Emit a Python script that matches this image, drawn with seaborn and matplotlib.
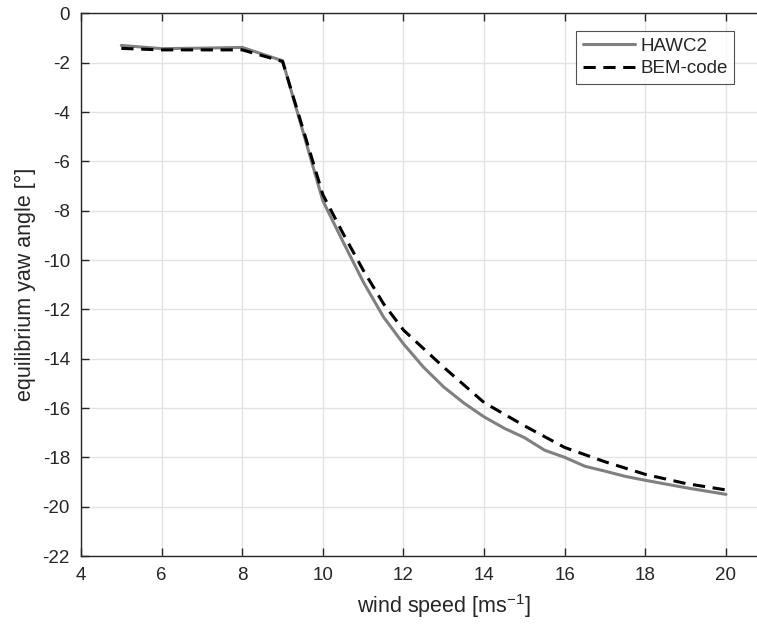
import matplotlib
matplotlib.use("Agg")
import matplotlib.pyplot as plt
import numpy as np
import pandas as pd
import seaborn as sns

# values
hawc2_ws = [5, 6, 7, 8, 9, 10, 10.5, 11, 11.5, 12, 12.5, 13, 13.5, 14, 14.5,
            15, 15.5, 16, 16.5, 17, 17.5, 18, 19, 20]
hawc2_yaw = [-1.30, -1.43, -1.41, -1.38, -1.92, -7.60, -9.26, -10.88, -12.30,
             -13.40, -14.35, -15.15, -15.80, -16.36, -16.82, -17.20, -17.71,
             -18.00, -18.36, -18.56, -18.77, -18.93, -19.23, -19.50]

bem_ws = [5, 6, 7, 8, 9, 10, 10.5, 11, 11.5, 12, 13, 14, 15, 16, 17, 18, 19, 20]
bem_yaw = [-1.42, -1.48, -1.48, -1.48, -1.95, -7.35, -8.92, -10.41, -11.76,
           -12.84, -14.35, -15.78, -16.72, -17.60, -18.18, -18.69, -19.06, -19.32]

x_ticks = np.arange(4, 21, 2)
y_ticks = np.arange(-22, 1, 2)

sns.set_style("white", {
    "xtick.bottom": True, "xtick.top": True,
    "ytick.left": True, "ytick.right": True,
    "xtick.direction": "in", "ytick.direction": "in",
})
plt.rcParams["font.family"] = ["Liberation Sans", "DejaVu Sans"]
plt.rcParams["axes.unicode_minus"] = False
plt.rcParams["mathtext.fontset"] = "custom"
plt.rcParams["mathtext.rm"] = "Liberation Sans"
plt.rcParams["mathtext.it"] = "Liberation Sans:italic"

df_h = pd.DataFrame({"ws": hawc2_ws, "yaw": hawc2_yaw})
df_b = pd.DataFrame({"ws": bem_ws, "yaw": bem_yaw})

fig = plt.figure(figsize=(7.57, 6.28), dpi=100)
ax = fig.add_axes([0.107, 0.1146, 0.96, 0.8641])

sns.lineplot(data=df_h, x="ws", y="yaw", ax=ax, color="#808080",
             linewidth=2.2, label="HAWC2", estimator=None, sort=False)
sns.lineplot(data=df_b, x="ws", y="yaw", ax=ax, color="black",
             linewidth=2.2, linestyle=(0, (4, 2.5)), label="BEM-code",
             estimator=None, sort=False)

# right edge of the box is cropped off in the reference
ax.set_xlim(4, 4 + 16 * 0.96 * 757 / (726 - 81))
ax.set_ylim(-22, 0)
ax.set_xticks(x_ticks)
ax.set_yticks(y_ticks)
ax.grid(True, color="#e3e3e3", linewidth=1.0)
ax.set_axisbelow(True)
for s in ax.spines.values():
    s.set_color("#262626")
    s.set_linewidth(1.0)
ax.tick_params(which="major", direction="in", length=6, width=1.0,
               color="#262626", labelcolor="#262626", labelsize=13.5,
               bottom=True, left=True, top=True, right=True, pad=8)

ax.set_xlabel("wind speed [ms$^{\\mathrm{-1}}$]", fontsize=15.5,
              color="#262626", labelpad=6)
ax.set_ylabel("equilibrium yaw angle [°]", fontsize=15.5, color="#262626",
              labelpad=5)

leg = ax.legend(loc="upper right",
                bbox_to_anchor=((734 - 81) / (0.96 * 757), 0.9676),
                fontsize=13.5, frameon=True, fancybox=False, handlelength=2.8,
                borderpad=0.35, labelspacing=0.3, handletextpad=0.25,
                borderaxespad=0)
leg.get_frame().set_edgecolor("#262626")
leg.get_frame().set_linewidth(0.8)

fig.savefig("out.png", dpi=100)
plt.close(fig)
